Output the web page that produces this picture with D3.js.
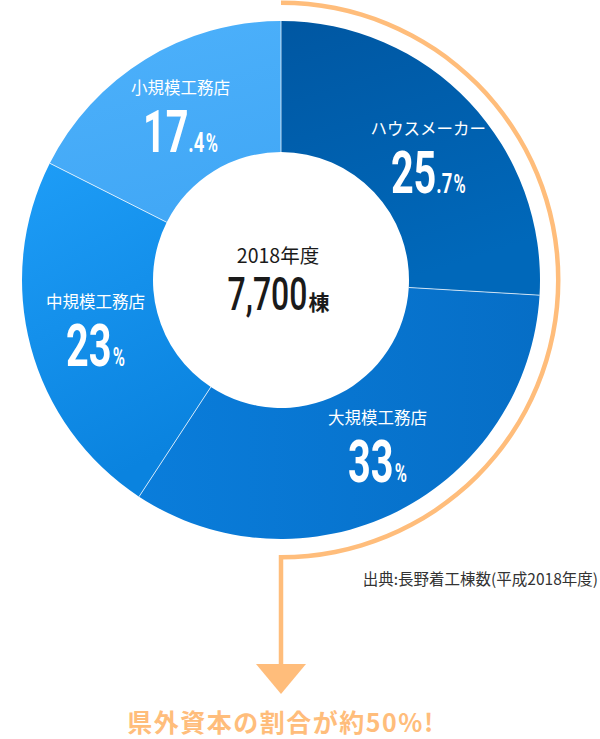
<!DOCTYPE html>
<html><head><meta charset="utf-8">
<script src="https://cdn.jsdelivr.net/npm/d3@7"></script>
<style>html,body{margin:0;padding:0;background:#fff;}svg{display:block;}</style>
</head><body>
<svg id="chart" width="600" height="739"></svg>
<script>
// ---- data ----
const categories = ["ハウスメーカー", "大規模工務店", "中規模工務店", "小規模工務店"];
const shares = [25.7, 33, 23, 17.4];
const shareInt = ["25", "33", "23", "17"];
const shareDec = [".7", "", "", ".4"];
const centerYear = "2018年度";
const centerTotal = "7,700";
const centerUnit = "棟";
const sourceNote = "出典:長野着工棟数(平成2018年度)";
const headline = "県外資本の割合が約50%!";

const sliceColors = [["#0057A2", "#0068BA"], ["#0A7DDB", "#066EC6"], ["#1E9DF7", "#0A83DF"], ["#4DB1FB", "#42A8F6"]];
const orange = "#FFBD7B";

const svg = d3.select("#chart");
const cx = 281, cy = 280, R = 259, r0 = 128;

const defs = svg.append("defs");
sliceColors.forEach((c, i) => {
  const g = defs.append("linearGradient").attr("id", "g" + i)
    .attr("x1", "0").attr("y1", "0").attr("x2", i === 1 ? "1" : "0.3").attr("y2", i === 1 ? "0" : "1");
  g.append("stop").attr("offset", "0").attr("stop-color", c[0]);
  g.append("stop").attr("offset", "1").attr("stop-color", c[1]);
});

const pie = d3.pie().sort(null).value(d => d)(shares);
const arc = d3.arc().innerRadius(r0).outerRadius(R);
const labelArc = d3.arc().innerRadius(192).outerRadius(192);

const gDonut = svg.append("g").attr("transform", `translate(${cx},${cy})`);
gDonut.selectAll("path.slice").data(pie).join("path")
  .attr("class", "slice")
  .attr("d", arc)
  .attr("fill", (d, i) => `url(#g${i})`);

// separators
gDonut.selectAll("line.sep").data(pie).join("line")
  .attr("class", "sep")
  .attr("x1", d => r0 * Math.sin(d.startAngle)).attr("y1", d => -r0 * Math.cos(d.startAngle))
  .attr("x2", d => R * Math.sin(d.startAngle)).attr("y2", d => -R * Math.cos(d.startAngle))
  .attr("stroke", "#ffffff").attr("stroke-opacity", 0.75).attr("stroke-width", 1);

// orange bracket arc
const bracket = d3.arc().innerRadius(275).outerRadius(279.5).startAngle(0).endAngle(Math.PI);
gDonut.append("path").attr("d", bracket()).attr("fill", orange);

// vertical line + arrow head
svg.append("line").attr("x1", cx).attr("x2", cx).attr("y1", cy + 275).attr("y2", 666)
  .attr("stroke", orange).attr("stroke-width", 4.5);
const tri = d3.path();
tri.moveTo(cx - 25, 664); tri.lineTo(cx + 25, 664); tri.lineTo(cx, 694); tri.closePath();
svg.append("path").attr("d", tri.toString()).attr("fill", orange);

// slice labels
const numFont = "Roboto, 'DejaVu Sans', sans-serif";
const jpFont = "'Noto Sans CJK JP', 'Noto Sans', sans-serif";
const sx = 0.66;
// angular nudge away from the House-maker / Large boundary as in the reference
const nudge = [0.06, -0.06, 0, 0];
pie.forEach((d, i) => {
  const a = (d.startAngle + d.endAngle) / 2 + nudge[i];
  const lx = 192 * Math.sin(a), ly = -192 * Math.cos(a);
  const g = gDonut.append("g").attr("transform", `translate(${lx},${ly})`);
  g.append("text").attr("x", 0).attr("y", -22)
    .attr("text-anchor", "middle").attr("fill", "#fff")
    .attr("font-family", jpFont).attr("font-size", 16.5)
    .text(categories[i]);
  const t = g.append("text").attr("transform", `scale(${sx},1)`)
    .attr("x", 0).attr("y", 36).attr("text-anchor", "middle")
    .attr("fill", "#fff").attr("font-family", numFont).attr("font-weight", 700);
  t.append("tspan").attr("font-size", 60).text(shareInt[i]);
  if (shareDec[i]) t.append("tspan").attr("font-size", 28).text(shareDec[i]);
  t.append("tspan").attr("font-size", 25).attr("dx", 2).text("%");
});

// center text
const gc = svg.append("g").attr("transform", `translate(${cx - 3},${cy})`);
gc.append("text").attr("x", 0).attr("y", -17).attr("text-anchor", "middle")
  .attr("fill", "#1a1a1a").attr("font-family", jpFont).attr("font-size", 19.5)
  .text(centerYear);
const num = gc.append("text").attr("transform", `scale(0.68,1)`)
  .attr("y", 30).attr("fill", "#1a1a1a").attr("font-family", numFont).attr("font-weight", 500)
  .attr("font-size", 47).text(centerTotal);
const unit = gc.append("text").attr("y", 30).attr("fill", "#1a1a1a")
  .attr("font-family", jpFont).attr("font-weight", 700).attr("font-size", 21).text(centerUnit);
const wNum = num.node().getComputedTextLength() * 0.68;
const wUnit = unit.node().getComputedTextLength();
const startX = -(wNum + wUnit) / 2;
num.attr("x", startX / 0.68);
unit.attr("x", startX + wNum + 1);

// source note
svg.append("text").attr("x", 598).attr("y", 585).attr("text-anchor", "end")
  .attr("fill", "#333").attr("font-family", jpFont).attr("font-size", 15.5)
  .text(sourceNote);

// headline
svg.append("text").attr("x", cx).attr("y", 732).attr("text-anchor", "middle")
  .attr("fill", orange).attr("font-family", jpFont).attr("font-weight", 700)
  .attr("font-size", 25).attr("letter-spacing", 1.5)
  .text(headline);
</script>
</body></html>
